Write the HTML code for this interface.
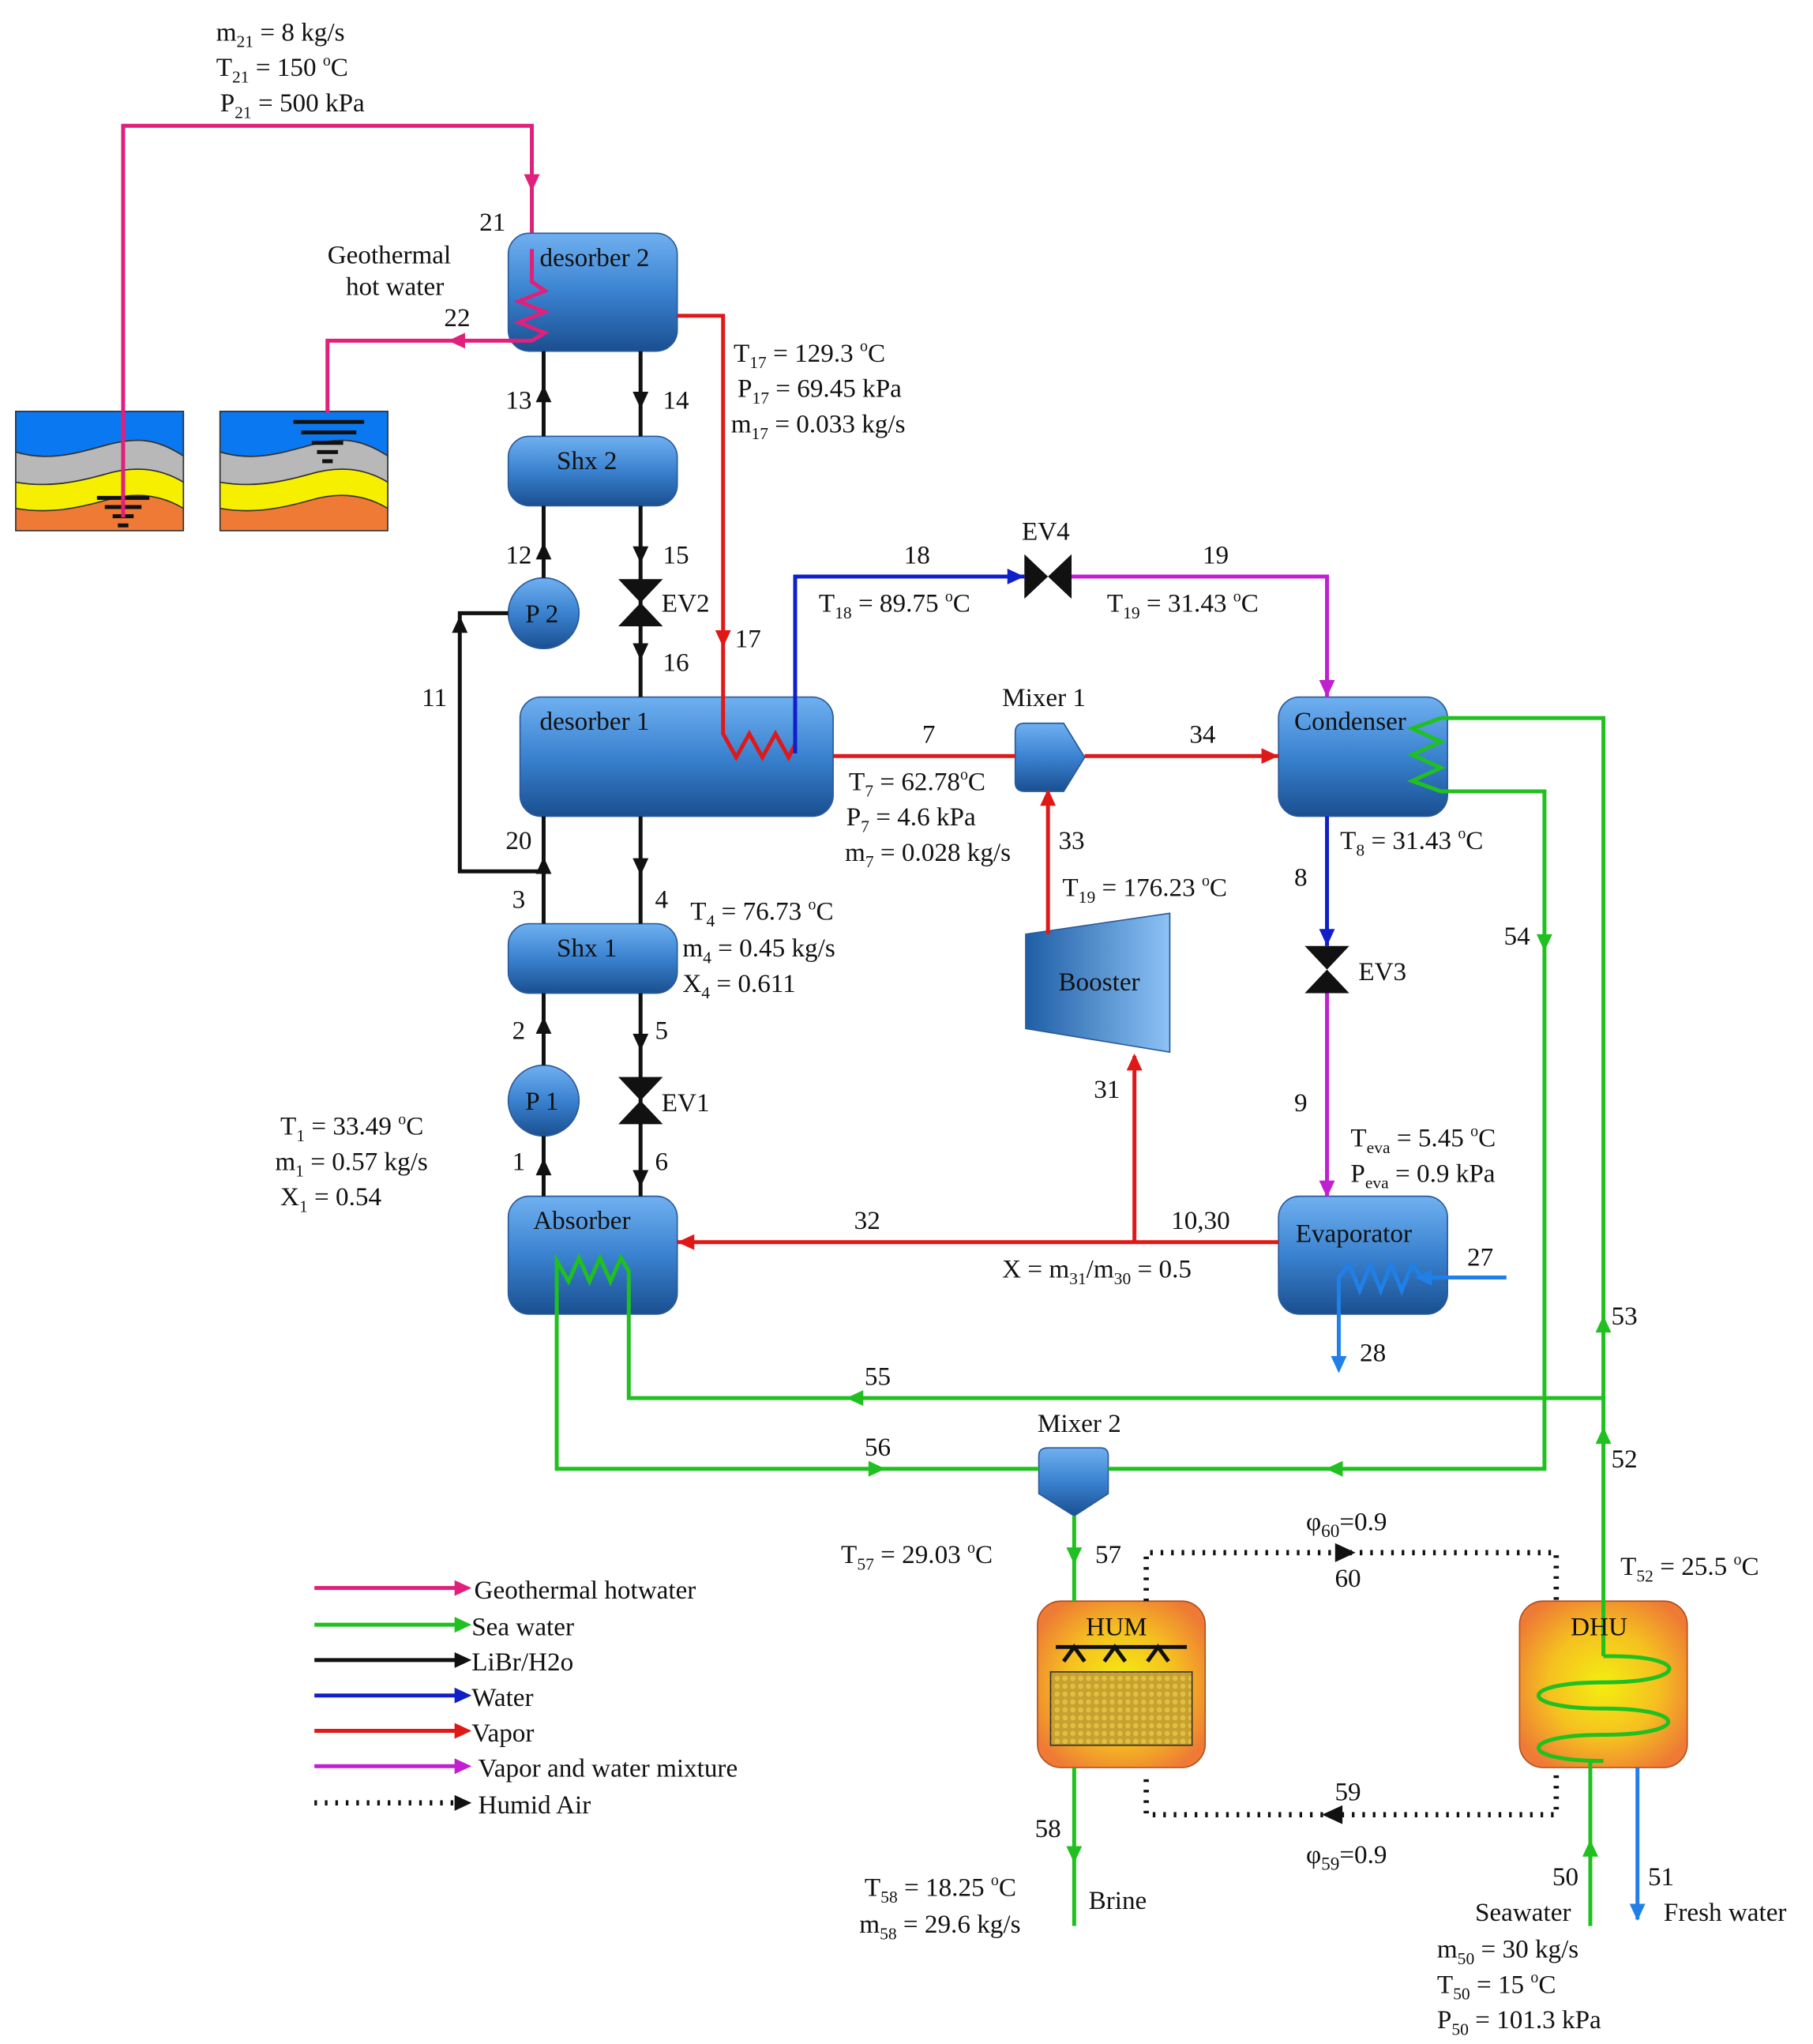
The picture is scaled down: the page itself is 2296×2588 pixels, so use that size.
<!DOCTYPE html>
<html><head><meta charset="utf-8"><style>
html,body{margin:0;padding:0;background:#fff;}
svg{display:block;}
text{font-family:"Liberation Serif",serif;font-size:20px;fill:#111;}
</style></head><body>
<svg width="2296" height="2588" viewBox="0 0 1384 1560" xmlns="http://www.w3.org/2000/svg">
<defs>
<linearGradient id="bl" x1="0" y1="0" x2="0" y2="1">
<stop offset="0" stop-color="#6fb0f0"/><stop offset="0.5" stop-color="#3a82d0"/><stop offset="1" stop-color="#1a4f90"/></linearGradient>
<linearGradient id="blh" x1="0" y1="0" x2="1" y2="0">
<stop offset="0" stop-color="#1f5ea6"/><stop offset="1" stop-color="#8cc2f5"/></linearGradient>
<radialGradient id="or" cx="0.5" cy="0.5" r="0.6">
<stop offset="0" stop-color="#f4ee10"/><stop offset="0.55" stop-color="#f5c020"/><stop offset="1" stop-color="#ee7a35"/></radialGradient>
<pattern id="mesh" width="6" height="6" patternUnits="userSpaceOnUse">
<rect width="6" height="6" fill="#c8a030"/><circle cx="3" cy="3" r="2" fill="#e0c040"/></pattern>
<polygon id="ar" points="-9,-6 4,0 -9,6"/>
</defs>

<!-- ground boxes -->
<g stroke="#333" stroke-width="1">
<rect x="12" y="314" width="128" height="91" fill="#ee7a35"/>
<path d="M12,314H140V348C120,335 105,333 80,340C55,347 35,352 12,345Z" fill="#0a78f0"/>
<path d="M12,345C35,352 55,347 80,340C105,333 120,335 140,348V368C120,356 100,356 80,362C55,369 35,372 12,368Z" fill="#b8b8b8"/>
<path d="M12,368C35,372 55,369 80,362C100,356 120,356 140,368V388C120,376 100,376 80,382C55,389 35,392 12,388Z" fill="#f6f000"/>
<rect x="168" y="314" width="128" height="91" fill="#ee7a35"/>
<path d="M168,314H296V348C276,335 261,333 236,340C211,347 191,352 168,345Z" fill="#0a78f0"/>
<path d="M168,345C191,352 211,347 236,340C261,333 276,335 296,348V368C276,356 256,356 236,362C211,369 191,372 168,368Z" fill="#b8b8b8"/>
<path d="M168,368C191,372 211,369 236,362C256,356 276,356 296,368V388C276,376 256,376 236,382C211,389 191,392 168,388Z" fill="#f6f000"/>
</g>
<g stroke="#111" stroke-width="3">
<line x1="74" y1="380" x2="114" y2="380"/><line x1="80" y1="387" x2="108" y2="387"/><line x1="86" y1="394" x2="102" y2="394"/><line x1="90" y1="401" x2="98" y2="401"/>
<line x1="224" y1="322" x2="278" y2="322"/><line x1="230" y1="330" x2="272" y2="330"/><line x1="238" y1="338" x2="262" y2="338"/><line x1="242" y1="345" x2="258" y2="345"/><line x1="246" y1="352" x2="254" y2="352"/>
</g>

<!-- pink geothermal -->
<g stroke="#e0207a" stroke-width="3" fill="none">
<polyline points="94,395 94,96 406,96 406,215"/>
<polyline points="406,215 416,222 396,230 416,238 396,246 416,254 406,260 250,260 250,315"/>
</g>
<g fill="#e0207a"><use href="#ar" transform="translate(406,142) rotate(90)"/><use href="#ar" transform="translate(346,260) rotate(180)"/></g>

<!-- equipment boxes -->
<g fill="url(#bl)" stroke="#2a5a9a" stroke-width="1">
<rect x="388" y="178" width="129" height="90" rx="16"/>
<rect x="388" y="333" width="129" height="53" rx="16"/>
<rect x="397" y="532" width="239" height="91" rx="16"/>
<rect x="388" y="705" width="129" height="53" rx="16"/>
<rect x="388" y="913" width="129" height="90" rx="16"/>
<rect x="976" y="532" width="129" height="91" rx="16"/>
<rect x="976" y="913" width="129" height="90" rx="16"/>
<circle cx="415" cy="468" r="27"/>
<circle cx="415" cy="840" r="27"/>
<path d="M782,552 H812 L828,578 L812,604 H782 Q775,604 775,597 V559 Q775,552 782,552Z"/>
<path d="M800,1105 H840 Q846,1105 846,1111 V1140 L820,1157 L793,1140 V1111 Q793,1105 800,1105Z"/>
<path d="M783,713 L893,697 V803 L783,785Z" fill="url(#blh)"/>
</g>
<polyline points="406,190 406,215 416,222 396,230 416,238 396,246 416,254 406,260 388,260" stroke="#e0207a" stroke-width="3" fill="none"/>

<!-- HUM / DHU -->
<rect x="792" y="1222" width="128" height="127" rx="18" fill="url(#or)" stroke="#b05020"/>
<rect x="1160" y="1222" width="128" height="127" rx="18" fill="url(#or)" stroke="#b05020"/>
<rect x="802" y="1276" width="108" height="56" fill="url(#mesh)" stroke="#333"/>
<g stroke="#111" stroke-width="3" fill="none">
<line x1="806" y1="1257" x2="906" y2="1257"/>
<path d="M812,1268 L820,1257 L828,1268 M843,1268 L851,1257 L859,1268 M876,1268 L884,1257 L892,1268"/>
</g>

<!-- black LiBr lines -->
<g stroke="#111" stroke-width="3" fill="none">
<line x1="415" y1="268" x2="415" y2="333"/><line x1="489" y1="268" x2="489" y2="333"/>
<line x1="415" y1="386" x2="415" y2="441"/><line x1="489" y1="386" x2="489" y2="532"/>
<line x1="415" y1="623" x2="415" y2="705"/><line x1="489" y1="623" x2="489" y2="705"/>
<polyline points="415,665 351,665 351,468 388,468"/>
<line x1="415" y1="758" x2="415" y2="813"/><line x1="489" y1="758" x2="489" y2="913"/>
<line x1="415" y1="867" x2="415" y2="913"/>
</g>
<g fill="#111">
<use href="#ar" transform="translate(415,298) rotate(-90)"/>
<use href="#ar" transform="translate(489,308) rotate(90)"/>
<use href="#ar" transform="translate(415,418) rotate(-90)"/>
<use href="#ar" transform="translate(489,426) rotate(90)"/>
<use href="#ar" transform="translate(489,500) rotate(90)"/>
<use href="#ar" transform="translate(351,474) rotate(-90)"/>
<use href="#ar" transform="translate(415,658) rotate(-90)"/>
<use href="#ar" transform="translate(489,664) rotate(90)"/>
<use href="#ar" transform="translate(415,780) rotate(-90)"/>
<use href="#ar" transform="translate(489,798) rotate(90)"/>
<use href="#ar" transform="translate(415,888) rotate(-90)"/>
<use href="#ar" transform="translate(489,902) rotate(90)"/>
<polygon points="472,442 506,442 489,460 472,478 506,478 489,460"/>
<polygon points="472,822 506,822 489,840 472,858 506,858 489,840"/>
<polygon points="996,722 1030,722 1013,740 996,758 1030,758 1013,740"/>
<polygon points="782,423 782,457 800,440 818,457 818,423 800,440"/>
</g>

<!-- red vapor -->
<g stroke="#e01818" stroke-width="3" fill="none">
<polyline points="517,241 552,241 552,560 562,578 572,560 582,578 592,560 602,578 607,568"/>
<line x1="636" y1="577" x2="775" y2="577"/>
<line x1="828" y1="577" x2="976" y2="577"/>
<line x1="800" y1="713" x2="800" y2="604"/>
<line x1="866" y1="948" x2="866" y2="806"/>
<line x1="976" y1="948" x2="517" y2="948"/>
</g>
<g fill="#e01818">
<use href="#ar" transform="translate(552,490) rotate(90)"/>
<use href="#ar" transform="translate(972,577)"/>
<use href="#ar" transform="translate(800,606) rotate(-90)"/>
<use href="#ar" transform="translate(866,808) rotate(-90)"/>
<use href="#ar" transform="translate(521,948) rotate(180)"/>
</g>

<!-- blue water -->
<g stroke="#1020c8" stroke-width="3" fill="none">
<polyline points="607,575 607,440 782,440"/>
<line x1="1013" y1="623" x2="1013" y2="722"/>
</g>
<g fill="#1020c8"><use href="#ar" transform="translate(778,440)"/><use href="#ar" transform="translate(1013,718) rotate(90)"/></g>
<g stroke="#2080e8" stroke-width="3" fill="none">
<polyline points="1150,975 1085,975 1078,965 1070,985 1062,965 1054,985 1046,965 1038,985 1030,965 1022,975 1022,1045"/>
<line x1="1250" y1="1349" x2="1250" y2="1465"/>
</g>
<g fill="#2080e8"><use href="#ar" transform="translate(1084,975) rotate(180)"/><use href="#ar" transform="translate(1022,1044) rotate(90)"/><use href="#ar" transform="translate(1250,1462) rotate(90)"/></g>

<!-- magenta -->
<g stroke="#c020d0" stroke-width="3" fill="none">
<polyline points="818,440 1013,440 1013,532"/>
<line x1="1013" y1="758" x2="1013" y2="913"/>
</g>
<g fill="#c020d0"><use href="#ar" transform="translate(1013,528) rotate(90)"/><use href="#ar" transform="translate(1013,910) rotate(90)"/></g>

<!-- green sea water -->
<g stroke="#20c020" stroke-width="3" fill="none">
<polyline points="1100,548 1224,548 1224,1264"/>
<polyline points="1100,548 1078,556 1100,566 1078,576 1100,586 1078,596 1100,604 1179,604 1179,1121 846,1121"/>
<polyline points="1224,1067 480,1067 480,970 474,960 466,978 458,960 450,978 442,960 434,978 425,962 425,1121 793,1121"/>
<line x1="820" y1="1157" x2="820" y2="1222"/>
<line x1="820" y1="1349" x2="820" y2="1470"/>
<line x1="1214" y1="1470" x2="1214" y2="1345"/>
<path d="M1224,1264 H1230 C1290,1264 1290,1284 1224,1284 C1158,1284 1158,1304 1224,1304 C1290,1304 1290,1324 1224,1324 C1158,1324 1158,1344 1224,1344 H1214"/>
</g>
<g fill="#20c020">
<use href="#ar" transform="translate(1224,1008) rotate(-90)"/>
<use href="#ar" transform="translate(1224,1093) rotate(-90)"/>
<use href="#ar" transform="translate(1179,722) rotate(90)"/>
<use href="#ar" transform="translate(1016,1121) rotate(180)"/>
<use href="#ar" transform="translate(650,1067) rotate(180)"/>
<use href="#ar" transform="translate(672,1121)"/>
<use href="#ar" transform="translate(820,1190) rotate(90)"/>
<use href="#ar" transform="translate(820,1418) rotate(90)"/>
<use href="#ar" transform="translate(1214,1408) rotate(-90)"/>
</g>

<!-- dotted humid air -->
<g stroke="#111" stroke-width="4" stroke-dasharray="2,6" fill="none">
<polyline points="875,1222 875,1185 1188,1185 1188,1222"/>
<polyline points="1188,1355 1188,1385 875,1385 875,1355"/>
</g>
<g fill="#111"><use href="#ar" transform="translate(1030,1185) scale(1.2)"/><use href="#ar" transform="translate(1014,1385) rotate(180) scale(1.2)"/></g>

<!-- legend -->
<g stroke-width="3">
<line x1="240" y1="1212" x2="350" y2="1212" stroke="#e0207a"/>
<line x1="240" y1="1240" x2="350" y2="1240" stroke="#20c020"/>
<line x1="240" y1="1267" x2="350" y2="1267" stroke="#111"/>
<line x1="240" y1="1294" x2="350" y2="1294" stroke="#1020c8"/>
<line x1="240" y1="1321" x2="350" y2="1321" stroke="#e01818"/>
<line x1="240" y1="1348" x2="350" y2="1348" stroke="#c020d0"/>
<line x1="240" y1="1376" x2="350" y2="1376" stroke="#111" stroke-width="4" stroke-dasharray="2,6"/>
</g>
<use href="#ar" transform="translate(356,1212)" fill="#e0207a"/>
<use href="#ar" transform="translate(356,1240)" fill="#20c020"/>
<use href="#ar" transform="translate(356,1267)" fill="#111"/>
<use href="#ar" transform="translate(356,1294)" fill="#1020c8"/>
<use href="#ar" transform="translate(356,1321)" fill="#e01818"/>
<use href="#ar" transform="translate(356,1348)" fill="#c020d0"/>
<use href="#ar" transform="translate(356,1376)" fill="#111"/>
<text x="362" y="1220">Geothermal hotwater</text>
<text x="360" y="1248">Sea water</text>
<text x="360" y="1275">LiBr/H2o</text>
<text x="360" y="1302">Water</text>
<text x="360" y="1329">Vapor</text>
<text x="365" y="1356">Vapor and water mixture</text>
<text x="365" y="1384">Humid Air</text>

<!-- component labels -->
<text x="412" y="203">desorber 2</text>
<text x="425" y="358">Shx 2</text>
<text x="401" y="475">P 2</text>
<text x="412" y="557">desorber 1</text>
<text x="425" y="730">Shx 1</text>
<text x="401" y="847">P 1</text>
<text x="407" y="938">Absorber</text>
<text x="988" y="557">Condenser</text>
<text x="989" y="948">Evaporator</text>
<text x="808" y="756" font-size="16">Booster</text>
<text x="765" y="539">Mixer 1</text>
<text x="792" y="1093">Mixer 2</text>
<text x="829" y="1248">HUM</text>
<text x="1199" y="1248">DHU</text>
<text x="780" y="412">EV4</text>
<text x="505" y="467">EV2</text>
<text x="505" y="848">EV1</text>
<text x="1037" y="748">EV3</text>
<text x="250" y="201">Geothermal</text>
<text x="264" y="225">hot water</text>

<!-- numbers -->
<text x="366" y="176">21</text><text x="339" y="249">22</text>
<text x="386" y="312">13</text><text x="506" y="312">14</text>
<text x="386" y="430">12</text><text x="506" y="430">15</text>
<text x="561" y="494">17</text><text x="506" y="512">16</text>
<text x="322" y="539">11</text><text x="386" y="648">20</text>
<text x="391" y="693">3</text><text x="500" y="693">4</text>
<text x="391" y="793">2</text><text x="500" y="793">5</text>
<text x="391" y="893">1</text><text x="500" y="893">6</text>
<text x="690" y="430">18</text><text x="918" y="430">19</text>
<text x="704" y="567">7</text><text x="908" y="567">34</text>
<text x="808" y="648">33</text><text x="988" y="676">8</text>
<text x="835" y="838">31</text><text x="988" y="848">9</text>
<text x="652" y="938">32</text><text x="894" y="938">10,30</text>
<text x="1148" y="721">54</text><text x="1120" y="966">27</text>
<text x="1038" y="1039">28</text><text x="1230" y="1011">53</text>
<text x="660" y="1057">55</text><text x="660" y="1111">56</text>
<text x="1230" y="1120">52</text><text x="836" y="1193">57</text>
<text x="1019" y="1211">60</text><text x="1019" y="1374">59</text>
<text x="790" y="1402">58</text><text x="1185" y="1439">50</text>
<text x="1258" y="1439">51</text>

<!-- data labels -->
<text x="165" y="31">m<tspan dy="5" font-size="13">21</tspan><tspan dy="-5"> = 8 kg/s</tspan></text>
<text x="165" y="58">T<tspan dy="5" font-size="13">21</tspan><tspan dy="-5"> = 150 </tspan><tspan dy="-8" font-size="12">o</tspan><tspan dy="8">C</tspan></text>
<text x="168" y="85">P<tspan dy="5" font-size="13">21</tspan><tspan dy="-5"> = 500 kPa</tspan></text>

<text x="560" y="276">T<tspan dy="5" font-size="13">17</tspan><tspan dy="-5"> = 129.3 </tspan><tspan dy="-8" font-size="12">o</tspan><tspan dy="8">C</tspan></text>
<text x="563" y="303">P<tspan dy="5" font-size="13">17</tspan><tspan dy="-5"> = 69.45 kPa</tspan></text>
<text x="558" y="330">m<tspan dy="5" font-size="13">17</tspan><tspan dy="-5"> = 0.033 kg/s</tspan></text>

<text x="625" y="467">T<tspan dy="5" font-size="13">18</tspan><tspan dy="-5"> = 89.75 </tspan><tspan dy="-8" font-size="12">o</tspan><tspan dy="8">C</tspan></text>
<text x="845" y="467">T<tspan dy="5" font-size="13">19</tspan><tspan dy="-5"> = 31.43 </tspan><tspan dy="-8" font-size="12">o</tspan><tspan dy="8">C</tspan></text>

<text x="648" y="603">T<tspan dy="5" font-size="13">7</tspan><tspan dy="-5"> = 62.78</tspan><tspan dy="-8" font-size="12">o</tspan><tspan dy="8">C</tspan></text>
<text x="646" y="630">P<tspan dy="5" font-size="13">7</tspan><tspan dy="-5"> = 4.6 kPa</tspan></text>
<text x="645" y="657">m<tspan dy="5" font-size="13">7</tspan><tspan dy="-5"> = 0.028 kg/s</tspan></text>

<text x="1023" y="648">T<tspan dy="5" font-size="13">8</tspan><tspan dy="-5"> = 31.43 </tspan><tspan dy="-8" font-size="12">o</tspan><tspan dy="8">C</tspan></text>
<text x="811" y="684">T<tspan dy="5" font-size="13">19</tspan><tspan dy="-5"> = 176.23 </tspan><tspan dy="-8" font-size="12">o</tspan><tspan dy="8">C</tspan></text>

<text x="527" y="702">T<tspan dy="5" font-size="13">4</tspan><tspan dy="-5"> = 76.73 </tspan><tspan dy="-8" font-size="12">o</tspan><tspan dy="8">C</tspan></text>
<text x="521" y="730">m<tspan dy="5" font-size="13">4</tspan><tspan dy="-5"> = 0.45 kg/s</tspan></text>
<text x="521" y="757">X<tspan dy="5" font-size="13">4</tspan><tspan dy="-5"> = 0.611</tspan></text>

<text x="214" y="866">T<tspan dy="5" font-size="13">1</tspan><tspan dy="-5"> = 33.49 </tspan><tspan dy="-8" font-size="12">o</tspan><tspan dy="8">C</tspan></text>
<text x="210" y="893">m<tspan dy="5" font-size="13">1</tspan><tspan dy="-5"> = 0.57 kg/s</tspan></text>
<text x="214" y="920">X<tspan dy="5" font-size="13">1</tspan><tspan dy="-5"> = 0.54</tspan></text>

<text x="1031" y="875">T<tspan dy="5" font-size="13">eva</tspan><tspan dy="-5"> = 5.45 </tspan><tspan dy="-8" font-size="12">o</tspan><tspan dy="8">C</tspan></text>
<text x="1031" y="902">P<tspan dy="5" font-size="13">eva</tspan><tspan dy="-5"> = 0.9 kPa</tspan></text>
<text x="765" y="975">X = m<tspan dy="5" font-size="13">31</tspan><tspan dy="-5">/m</tspan><tspan dy="5" font-size="13">30</tspan><tspan dy="-5"> = 0.5</tspan></text>

<text x="642" y="1193">T<tspan dy="5" font-size="13">57</tspan><tspan dy="-5"> = 29.03 </tspan><tspan dy="-8" font-size="12">o</tspan><tspan dy="8">C</tspan></text>
<text x="997" y="1168" font-size="22">φ<tspan dy="5" font-size="14">60</tspan><tspan dy="-5">=0.9</tspan></text>
<text x="1237" y="1202">T<tspan dy="5" font-size="13">52</tspan><tspan dy="-5"> = 25.5 </tspan><tspan dy="-8" font-size="12">o</tspan><tspan dy="8">C</tspan></text>
<text x="997" y="1422" font-size="22">φ<tspan dy="5" font-size="14">59</tspan><tspan dy="-5">=0.9</tspan></text>
<text x="660" y="1447">T<tspan dy="5" font-size="13">58</tspan><tspan dy="-5"> = 18.25 </tspan><tspan dy="-8" font-size="12">o</tspan><tspan dy="8">C</tspan></text>
<text x="656" y="1475">m<tspan dy="5" font-size="13">58</tspan><tspan dy="-5"> = 29.6 kg/s</tspan></text>
<text x="831" y="1457">Brine</text>
<text x="1126" y="1466">Seawater</text>
<text x="1270" y="1466">Fresh water</text>
<text x="1097" y="1494">m<tspan dy="5" font-size="13">50</tspan><tspan dy="-5"> = 30 kg/s</tspan></text>
<text x="1097" y="1521">T<tspan dy="5" font-size="13">50</tspan><tspan dy="-5"> = 15 </tspan><tspan dy="-8" font-size="12">o</tspan><tspan dy="8">C</tspan></text>
<text x="1097" y="1548">P<tspan dy="5" font-size="13">50</tspan><tspan dy="-5"> = 101.3 kPa</tspan></text>
</svg>
</body></html>
